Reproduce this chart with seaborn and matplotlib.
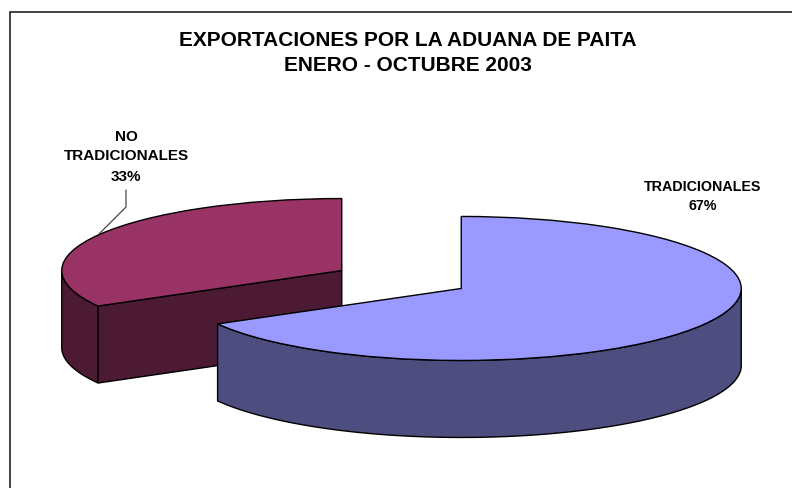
import numpy as np
import matplotlib
matplotlib.use('Agg')
import matplotlib.pyplot as plt
from matplotlib.lines import Line2D
from matplotlib.patches import Polygon, Rectangle
import seaborn as sns

title_lines = ['EXPORTACIONES POR LA ADUANA DE PAITA', 'ENERO - OCTUBRE 2003']
categories = ['TRADICIONALES', 'NO TRADICIONALES']
shares = [66.8, 33.2]
top_colors = ['#9999FF', '#993366']
side_colors = ['#4D4D80', '#4D1A33']

W, H = 792, 488
# pixel size of one pie radius, the pie centre and the wall height
RX, RY = 280, 72
CX, CY = 401.5, 279.5
DEPTH = 77 / RY
EXPLODE = 0.247

sns.set_theme(style='white')
plt.rcParams['font.family'] = ['Liberation Sans', 'DejaVu Sans']

fig = plt.figure(figsize=(W / 100, H / 100), dpi=100, facecolor='white')
ax = fig.add_axes([0, 0, 1, 1])
wedges, _ = ax.pie(shares, explode=[EXPLODE, EXPLODE], colors=top_colors,
                   startangle=90, counterclock=False,
                   wedgeprops={'edgecolor': 'black', 'linewidth': 1.0})
# the squashed axes turn the circles into the tilted ellipses
ax.set_aspect('auto')
ax.set_xlim(-CX / RX, (W - CX) / RX)
ax.set_ylim(-(H - CY) / RY, CY / RY)
ax.axis('off')


def add_walls(wedge, color, zorder):
    cx, cy = wedge.center
    t = np.radians(np.linspace(wedge.theta1, wedge.theta2, 400))
    t = t[np.sin(t) <= 1e-9]
    x = cx + np.cos(t)
    y = cy + np.sin(t)
    rim = np.r_[np.c_[x, y], np.c_[x[::-1], y[::-1] - DEPTH]]
    ax.add_patch(Polygon(rim, closed=True, facecolor=color, edgecolor='black',
                         linewidth=1.0, zorder=zorder))
    return (cx, cy), (x, y)


# red slice goes behind the blue one
(red_c, (red_x, red_y)) = add_walls(wedges[1], side_colors[1], 1)
edge_x = red_x[np.argmin(red_y)]
edge_y = red_y.min()
cut = [red_c, (edge_x, edge_y), (edge_x, edge_y - DEPTH), (red_c[0], red_c[1] - DEPTH)]
ax.add_patch(Polygon(cut, closed=True, facecolor=side_colors[1], edgecolor='black',
                     linewidth=1.0, zorder=1.5))
wedges[1].set_zorder(2)
add_walls(wedges[0], side_colors[0], 3)
wedges[0].set_zorder(4)


def fx(x):
    return x / W


def fy(y):
    return 1 - y / H


# chart border runs past the right and bottom of the picture
fig.add_artist(Rectangle((fx(9.5), fy(H + 20)), 1, fy(11.5) - fy(H + 20), fill=False,
                         edgecolor='#222222', linewidth=1.2,
                         transform=fig.transFigure))

for line, y in zip(title_lines, [40.5, 65.5]):
    fig.text(fx(407.5), fy(y), line, ha='center', va='center', fontsize=15,
             fontweight='bold', color='black')

fig.text(fx(703), fy(187), categories[0], ha='center', va='center', fontsize=10.3,
         fontweight='bold', color='black')
fig.text(fx(703), fy(205.5), f'{round(shares[0])}%', ha='center', va='center', fontsize=10.3,
         fontweight='bold', color='black')

no_word, trad_word = categories[1].split(' ')
for line, y in zip([no_word, trad_word, f'{round(shares[1])}%'], [137, 156.5, 177]):
    fig.text(fx(126), fy(y), line, ha='center', va='center', fontsize=11,
             fontweight='bold', color='black')

fig.add_artist(Line2D([fx(126), fx(126), fx(99)], [fy(190), fy(207), fy(234)],
                      color='#333333', linewidth=0.8, transform=fig.transFigure))

fig.savefig('out.png', dpi=100)
